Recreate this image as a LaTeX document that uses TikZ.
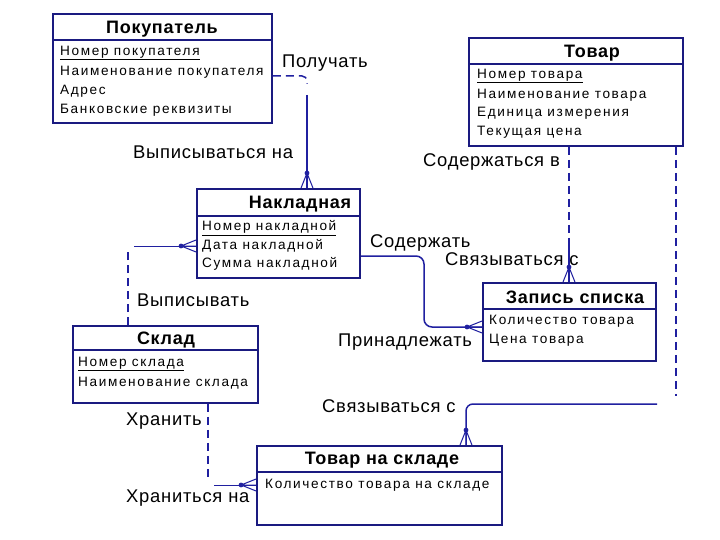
\documentclass[tikz,border=0pt]{standalone}
\usepackage{fontspec}
\setmainfont{Liberation Sans}
\newfontfamily\attrfont[LetterSpace=12]{Liberation Sans}
\newfontfamily\headfont[LetterSpace=4]{Liberation Sans}
\usetikzlibrary{positioning,calc}
\definecolor{ERNavy}{HTML}{1A1A80}
\definecolor{ERBlue}{HTML}{2020A0}

\begin{document}
\begin{tikzpicture}[x=1pt,y=-1pt,
    entity/.style={
      draw=ERNavy,
      line width=1.9pt,
      inner sep=0pt
    },
    divider/.style={
      draw=ERNavy,
      line width=1.7pt
    },
    title/.style={
      font=\headfont\fontsize{18}{20}\selectfont\bfseries,
      inner sep=0pt
    },
    attr/.style={
      font=\attrfont\fontsize{13.6}{15}\selectfont,
      anchor=west,
      inner sep=0pt
    },
    lbl/.style={
      font=\headfont\fontsize{18.4}{20}\selectfont,
      anchor=west,
      inner sep=0pt
    },
    rel/.style={
      draw=ERBlue,
      line width=1.5pt
    },
    relthin/.style={
      draw=ERBlue,
      line width=1pt
    },
    reldash/.style={
      draw=ERBlue,
      line width=1.5pt,
      dash pattern=on 8pt off 5pt
    },
    crow/.pic={
      \fill[ERBlue] (0,0) circle (2.4);
      \draw[ERBlue, line width=1pt] (0,0) -- (15,-6) (0,0) -- (15,0) (0,0) -- (15,6);
    }
  ]
  \useasboundingbox[fill=white] (0,0) rectangle (720,540);

  % Покупатель
  \node[entity, minimum width=219pt, minimum height=109pt] (buyer) at (162.5,68.5) {};
  \draw[divider] ($(buyer.north west)+(0,27)$) -- ($(buyer.north east)+(0,27)$);
  \node[title] (buyert) at (162,29) {Покупатель};
  \node[attr] (buyera) at (60,53) {\underline{Номер покупателя}};
  \node[attr] (buyerb) at (60,72) {Наименование покупателя};
  \node[attr] (buyerc) at (60,91) {Адрес};
  \node[attr] (buyerd) at (60,110) {Банковские реквизиты};

  % Товар
  \node[entity, minimum width=214pt, minimum height=108pt] (good) at (576,92) {};
  \draw[divider] ($(good.north west)+(0,27)$) -- ($(good.north east)+(0,27)$);
  \node[title] (goodt) at (592,53) {Товар};
  \node[attr] (gooda) at (477,76) {\underline{Номер товара}};
  \node[attr] (goodb) at (477,95) {Наименование товара};
  \node[attr] (goodc) at (477,113) {Единица измерения};
  \node[attr] (goodd) at (477,132) {Текущая цена};

  % Накладная
  \node[entity, minimum width=163pt, minimum height=89pt] (invoice) at (278.5,233.5) {};
  \draw[divider] ($(invoice.north west)+(0,28)$) -- ($(invoice.north east)+(0,28)$);
  \node[title] (invoicet) at (300,204) {Накладная};
  \node[attr] (invoicea) at (202,228) {\underline{Номер накладной}};
  \node[attr] (invoiceb) at (202,246) {Дата накладной};
  \node[attr] (invoicec) at (202,264) {Сумма накладной};

  % Склад
  \node[entity, minimum width=185pt, minimum height=77pt] (store) at (165.5,364.5) {};
  \draw[divider] ($(store.north west)+(0,25)$) -- ($(store.north east)+(0,25)$);
  \node[title] (storet) at (166,340) {Склад};
  \node[attr] (storea) at (78,364) {\underline{Номер склада}};
  \node[attr] (storeb) at (78,383) {Наименование склада};

  % Запись списка
  \node[entity, minimum width=173pt, minimum height=78pt] (item) at (569.5,322) {};
  \draw[divider] ($(item.north west)+(0,27)$) -- ($(item.north east)+(0,27)$);
  \node[title] (itemt) at (575,297) {Запись списка};
  \node[attr] (itema) at (489,321) {Количество товара};
  \node[attr] (itemb) at (489,340) {Цена товара};

  % Товар на складе
  \node[entity, minimum width=245pt, minimum height=79pt] (stock) at (379.5,485.5) {};
  \draw[divider] ($(stock.north west)+(0,27)$) -- ($(stock.north east)+(0,27)$);
  \node[title] (stockt) at (382,460) {Товар на складе};
  \node[attr] (stocka) at (265,485) {Количество товара на складе};

  % Покупатель -- Накладная
  \coordinate (c1) at (307,76);
  \coordinate (c1b) at (307,95);
  \draw[reldash, rounded corners=5pt] (buyer.east |- c1) -- (c1) -- ++(0,8);
  \draw[rel] (c1b) -- (invoice.north -| c1b);
  \pic[rotate=-90] at ($(invoice.north -| c1b)+(0,-15)$) {crow};
  \node[lbl] (lget) at (282,63) {Получать};
  \node[lbl] (lissued) at (133,152) {Выписываться на};

  % Товар -- Запись списка
  \coordinate (c2) at (569,242);
  \draw[reldash] (good.south -| c2) -- (c2);
  \draw[rel] (c2) -- (item.north -| c2);
  \pic[rotate=-90] at ($(item.north -| c2)+(0,-15)$) {crow};
  \node[lbl] (lcont) at (423,162) {Содержаться в};
  \node[lbl] (llink) at (445,259) {Связываться с};

  % Накладная -- Запись списка
  \coordinate (c3a) at (424,256);
  \coordinate (c3b) at (424,327);
  \draw[rel, rounded corners=8pt] (invoice.east |- c3a) -- (c3a) -- (c3b) -- (item.west |- c3b);
  \pic at ($(item.west |- c3b)+(-15,0)$) {crow};
  \node[lbl] (lhold) at (370,243) {Содержать};
  \node[lbl] (lbelong) at (338,342) {Принадлежать};

  % Склад -- Накладная
  \coordinate (c4a) at (128,249);
  \coordinate (c4b) at (134,246);
  \draw[reldash] (store.north -| c4a) -- (c4a);
  \draw[relthin] (c4b) -- (invoice.west |- c4b);
  \pic at ($(invoice.west |- c4b)+(-15,0)$) {crow};
  \node[lbl] (lwrite) at (137,300) {Выписывать};

  % Склад -- Товар на складе
  \coordinate (c5a) at (208,479);
  \coordinate (c5b) at (214,485);
  \draw[reldash] (store.south -| c5a) -- (c5a);
  \draw[relthin] (c5b) -- (stock.west |- c5b);
  \pic at ($(stock.west |- c5b)+(-15,0)$) {crow};
  \node[lbl] (lkeep) at (126,421) {Хранить};
  \node[lbl] (lkept) at (126,498) {Храниться на};

  % Товар -- Товар на складе
  \coordinate (c6a) at (676,396);
  \coordinate (c6b) at (657,404);
  \coordinate (c6c) at (466,404);
  \draw[reldash] (good.south -| c6a) -- (c6a);
  \draw[rel, rounded corners=7pt] (c6b) -- (c6c) -- (stock.north -| c6c);
  \pic[rotate=-90] at ($(stock.north -| c6c)+(0,-15)$) {crow};
  \node[lbl] (llink2) at (322,406) {Связываться с};

\end{tikzpicture}
\end{document}
